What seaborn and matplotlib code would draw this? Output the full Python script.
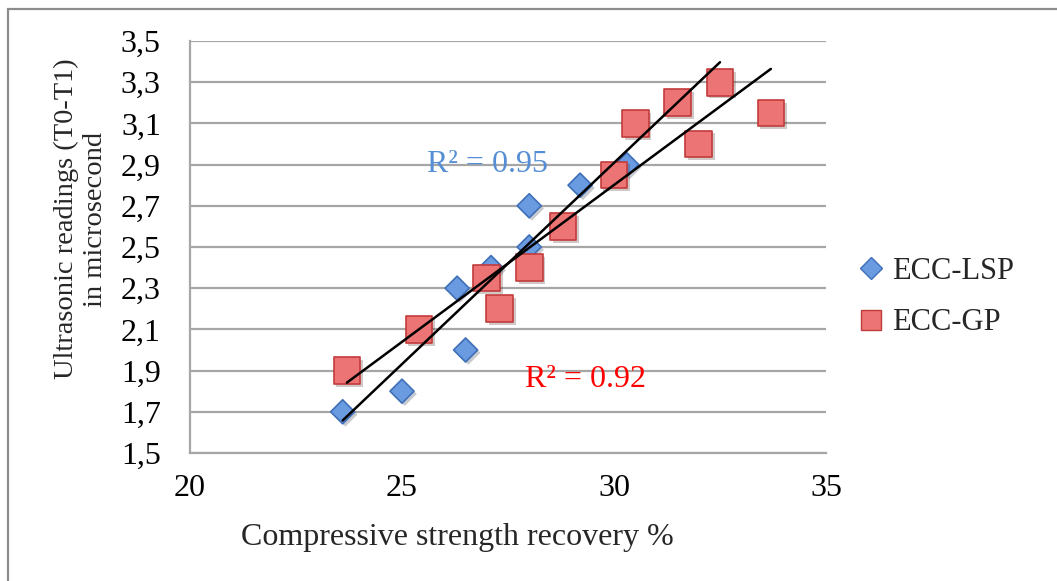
import numpy as np
import pandas as pd
import seaborn as sns
import matplotlib
matplotlib.use("Agg")
import matplotlib.pyplot as plt
from matplotlib.patches import Rectangle
import matplotlib.patheffects as pe

# ---------------- data ----------------
lsp_x = [23.6, 25.0, 26.3, 26.5, 27.1, 28.0, 28.0, 29.2, 30.3, 30.5, 32.5]
lsp_y = [1.70, 1.80, 2.30, 2.00, 2.40, 2.50, 2.70, 2.80, 2.90, 3.10, 3.30]
gp_x = [23.7, 25.4, 27.0, 27.3, 28.0, 28.8, 30.0, 30.5, 31.5, 32.0, 32.5, 33.7]
gp_y = [1.90, 2.10, 2.35, 2.20, 2.40, 2.60, 2.85, 3.10, 3.20, 3.00, 3.30, 3.15]
series_names = ["ECC-LSP", "ECC-GP"]
r2_labels = ["R² = 0.95", "R² = 0.92"]
x_ticks = [20, 25, 30, 35]
y_ticks = [1.5, 1.7, 1.9, 2.1, 2.3, 2.5, 2.7, 2.9, 3.1, 3.3, 3.5]
y_tick_labels = ["1,5", "1,7", "1,9", "2,1", "2,3", "2,5", "2,7", "2,9", "3,1", "3,3", "3,5"]
x_title = "Compressive strength recovery %"
y_title = "Ultrasonic readings (T0-T1)\nin microsecond"

df = pd.concat([
    pd.DataFrame({"x": lsp_x, "y": lsp_y, "series": series_names[0]}),
    pd.DataFrame({"x": gp_x, "y": gp_y, "series": series_names[1]}),
], ignore_index=True)

# ---------------- style ----------------
sns.set_theme(style="white")
plt.rcParams["font.family"] = ["Liberation Serif", "DejaVu Serif"]
FS = 23
GRID = "#a6a6a6"

W, H = 1057, 581
fig = plt.figure(figsize=(W / 100, H / 100), dpi=100)
fig.patch.set_facecolor("white")
ax = fig.add_axes([190 / W, 1 - 453 / H, (826 - 190) / W, (453 - 41) / H])

blue_face, blue_edge = "#6a9be0", "#3e6fb8"
red_face, red_edge = "#ec7474", "#c23b3b"
shadow = [pe.SimplePatchShadow(offset=(2, -2), alpha=0.25), pe.Normal()]

for yv in y_ticks:
    ax.axhline(yv, color=GRID, lw=1.6, zorder=0)

sns.scatterplot(data=df[df.series == series_names[0]], x="x", y="y", ax=ax,
                marker="D", s=150, color=blue_face, edgecolor=blue_edge,
                linewidth=1.2, zorder=3, legend=False)
sns.scatterplot(data=df[df.series == series_names[1]], x="x", y="y", ax=ax,
                marker="s", s=370, color=red_face, edgecolor=red_edge,
                linewidth=1.2, zorder=4, legend=False)
for coll in ax.collections:
    coll.set_path_effects(shadow)

# linear trend lines
for xs, ys in [(lsp_x, lsp_y), (gp_x, gp_y)]:
    k, b = np.polyfit(xs, ys, 1)
    xx = np.array([min(xs), max(xs)])
    ax.plot(xx, k * xx + b, color="black", lw=1.8, zorder=5)

ax.text(25.6, 2.9, r2_labels[0], color="#558ed5", fontsize=FS, ha="left", va="center", zorder=2)
ax.text(27.9, 1.855, r2_labels[1], color="#ff0000", fontsize=FS, ha="left", va="center", zorder=2)

ax.set_xlim(20, 35)
ax.set_ylim(1.5, 3.5)
ax.set_xticks(x_ticks)
ax.set_xticklabels([str(t) for t in x_ticks])
ax.set_yticks(y_ticks)
ax.set_yticklabels(y_tick_labels)
ax.tick_params(axis="both", labelsize=FS, colors=GRID, labelcolor="black",
               direction="out", length=7, width=1.6)
ax.tick_params(axis="y", pad=14)
ax.tick_params(axis="x", pad=8)
ax.set_xlabel("")
ax.set_ylabel("")
for side in ["top", "right"]:
    ax.spines[side].set_visible(False)
for side in ["left", "bottom"]:
    ax.spines[side].set_color(GRID)
    ax.spines[side].set_linewidth(1.6)
ax.set_facecolor("white")

fig.text(457 / W, 1 - 537 / H, x_title, fontsize=FS, ha="center", va="center")
fig.text(81 / W, 1 - 219 / H, y_title, fontsize=20.5, ha="center", va="center",
         rotation=90, multialignment="center", linespacing=1.25)

# legend
h1 = plt.Line2D([], [], marker="D", ls="", markersize=11, markerfacecolor=blue_face,
                markeredgecolor=blue_edge, markeredgewidth=1.0)
h2 = plt.Line2D([], [], marker="s", ls="", markersize=15, markerfacecolor=red_face,
                markeredgecolor=red_edge, markeredgewidth=1.0)
fig.legend([h1, h2], series_names, loc="center left",
           bbox_to_anchor=(828 / W, 1 - 297 / H), frameon=False, fontsize=22,
           handlelength=1.0, handletextpad=0.2, labelspacing=0.75)

# outer chart border (right/bottom cropped)
fig.patches.append(Rectangle((8 / W, -0.2), 1.5, 1.2 - 9 / H, transform=fig.transFigure,
                             fill=False, edgecolor="#8c8c8c", lw=1.6))

fig.savefig("out.png", dpi=100)
